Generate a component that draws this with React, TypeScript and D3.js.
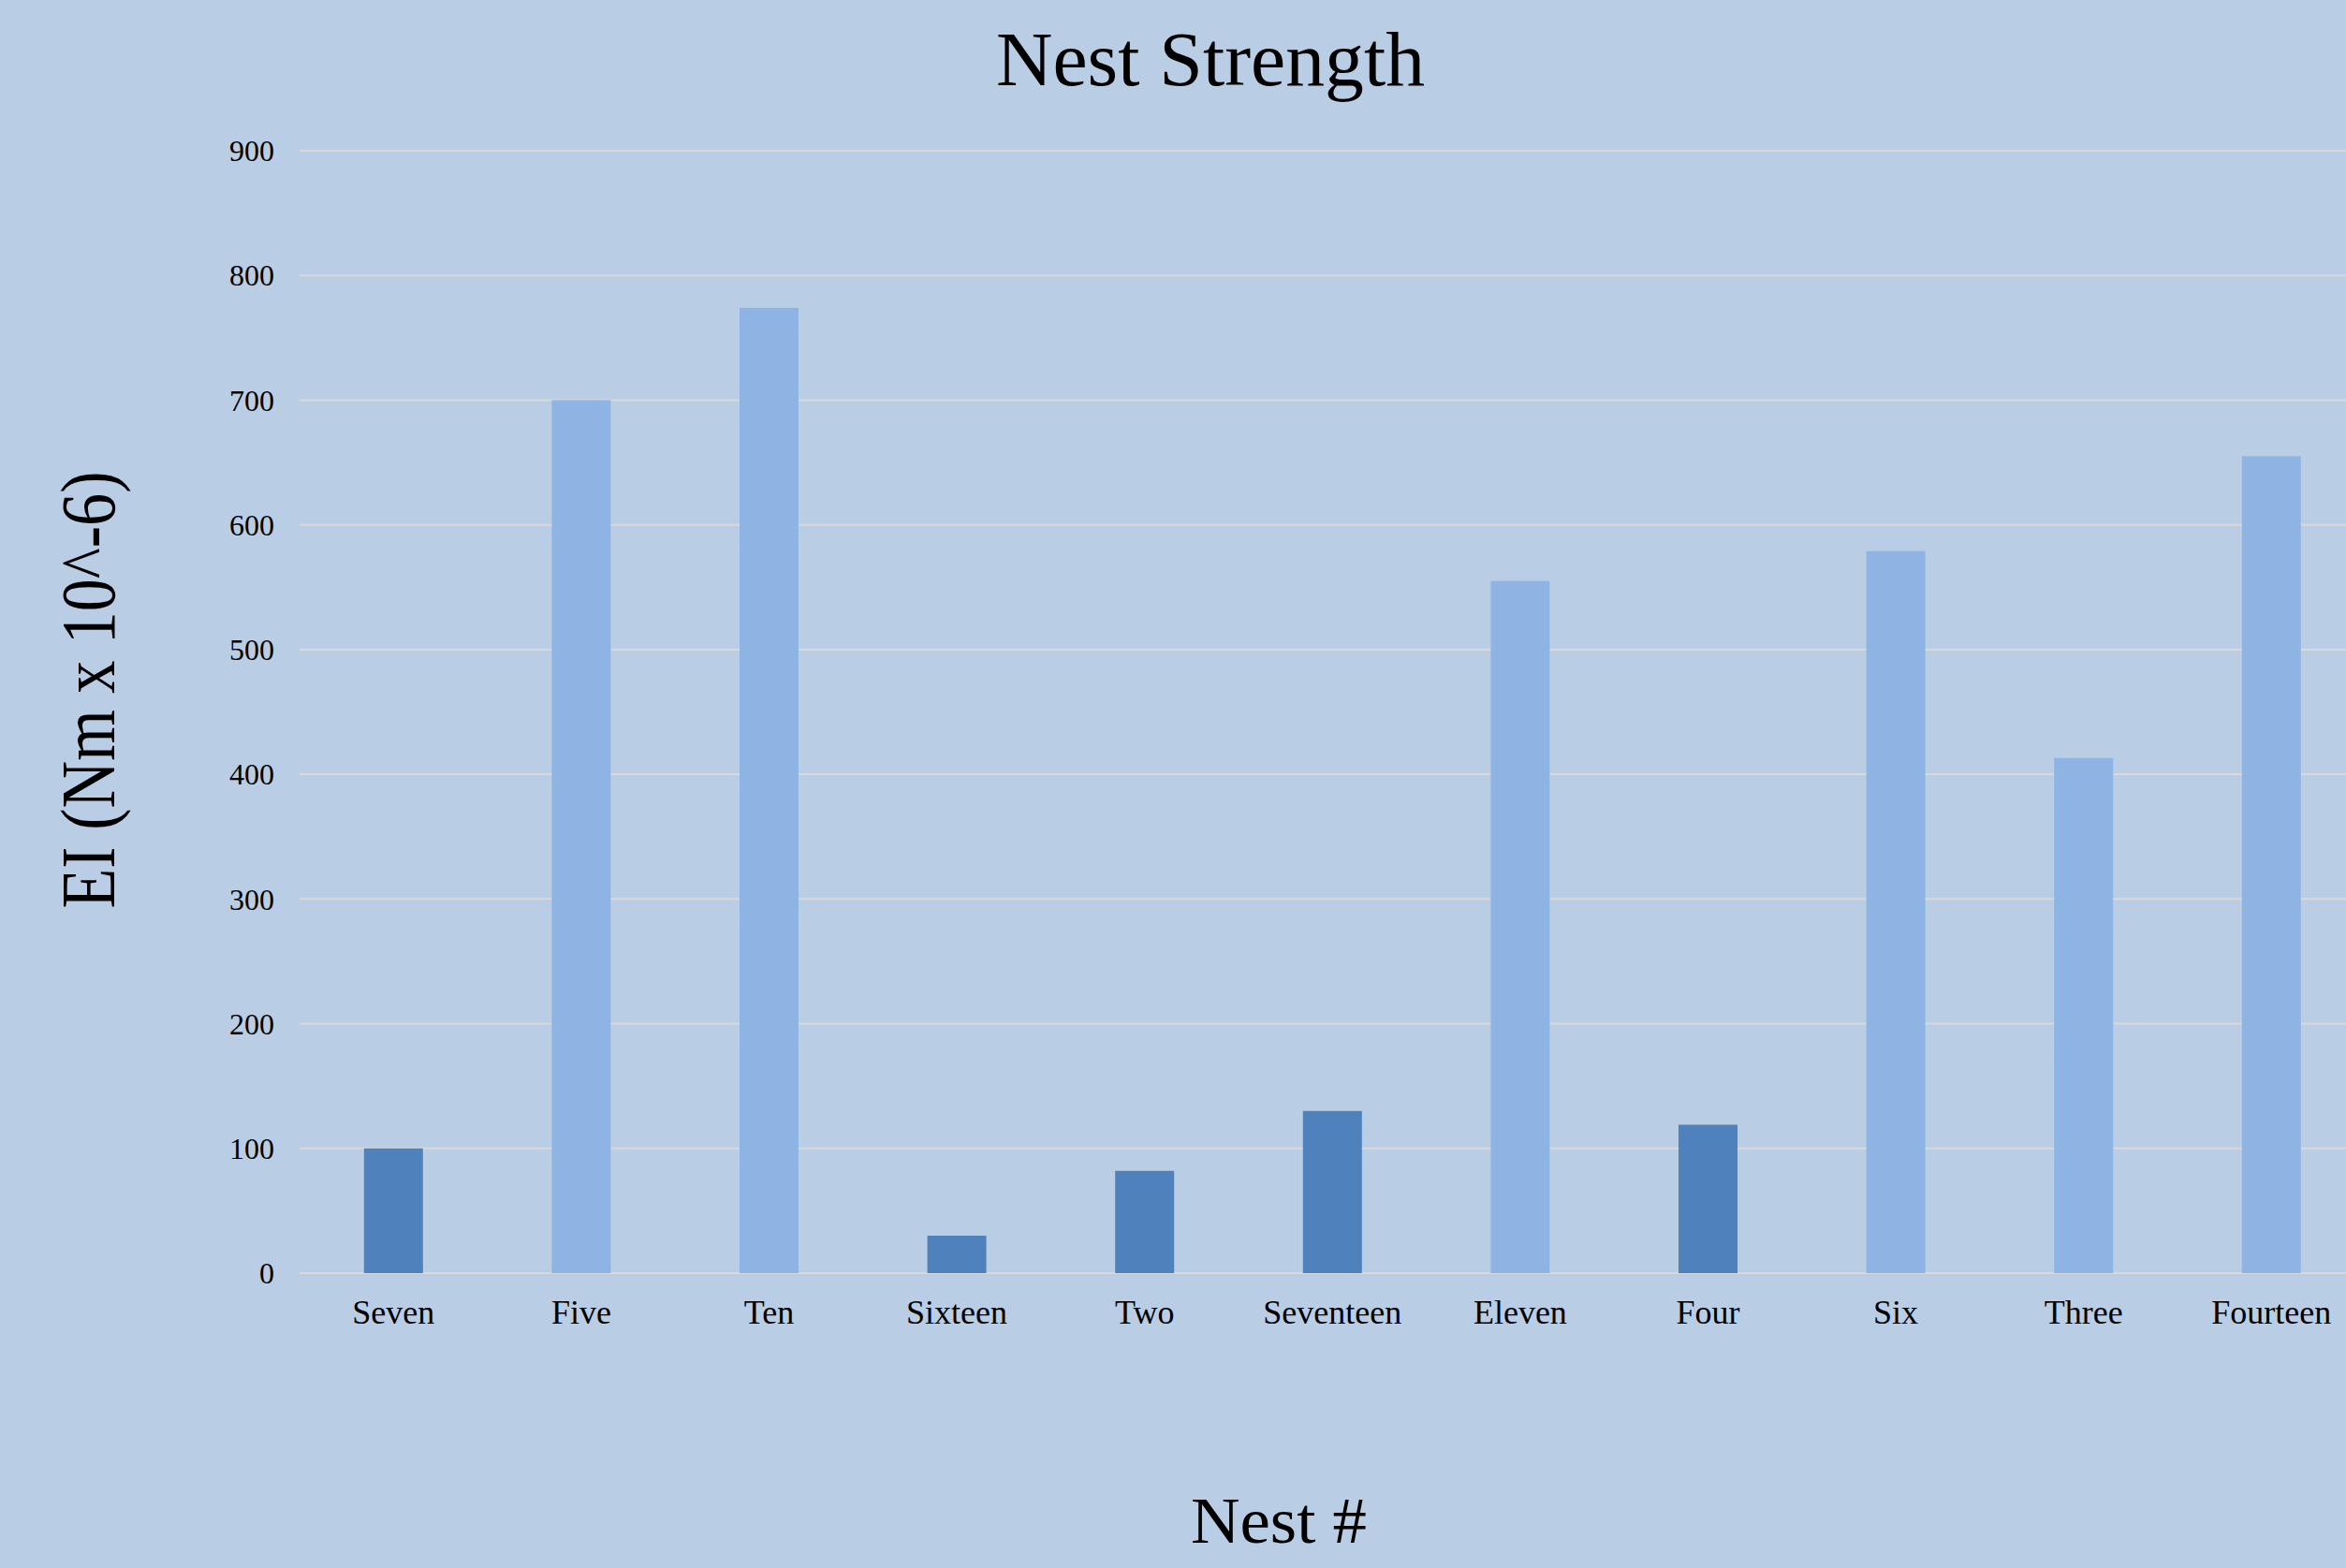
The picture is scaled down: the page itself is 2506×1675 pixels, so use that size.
import React from "react";
import * as d3 from "d3";

const nests = ["Seven", "Five", "Ten", "Sixteen", "Two", "Seventeen", "Eleven", "Four", "Six", "Three", "Fourteen"];
const strength = [100, 700, 774, 30, 82, 130, 555, 119, 579, 413, 655];
const nestGroup = ["low", "high", "high", "low", "low", "low", "high", "low", "high", "high", "high"];
const yTicks = [0, 100, 200, 300, 400, 500, 600, 700, 800, 900];

const W = 2506;
const H = 1675;
const FONT = "'Liberation Serif', 'DejaVu Serif', serif";

export default function App() {
  const x = d3
    .scaleBand<string>()
    .domain(nests)
    .range([320, 2526.6])
    .paddingInner(0.686)
    .paddingOuter(0.343);
  const y = d3.scaleLinear().domain([0, 900]).range([1360, 161]);
  const color = d3.scaleOrdinal<string, string>().domain(["low", "high"]).range(["#4F81BD", "#8EB4E3"]);

  return (
    <svg
      width={W}
      height={H}
      style={{ position: "absolute", left: 0, top: 0, display: "block" }}
      fontFamily={FONT}
    >
      <rect x={0} y={0} width={W} height={H} fill="#B9CDE5" />
      <text x={1293} y={91} textAnchor="middle" fontSize={82} textLength={458} lengthAdjust="spacingAndGlyphs" fill="#000">
        Nest Strength
      </text>
      {yTicks.map((t) => (
        <g key={t}>
          <line x1={320} x2={W} y1={y(t)} y2={y(t)} stroke="#D9D9D9" strokeWidth={2} />
          <text x={293} y={y(t)} dy="0.35em" textAnchor="end" fontSize={32} fill="#000">
            {t}
          </text>
        </g>
      ))}
      {nests.map((n, i) => (
        <rect
          key={n}
          x={x(n)}
          y={y(strength[i])}
          width={x.bandwidth()}
          height={y(0) - y(strength[i])}
          fill={color(nestGroup[i])}
        />
      ))}
      {nests.map((n) => (
        <text key={n} x={(x(n) as number) + x.bandwidth() / 2} y={1414} textAnchor="middle" fontSize={36} fill="#000">
          {n}
        </text>
      ))}
      <text
        transform={`translate(122, 737) rotate(-90)`}
        textAnchor="middle"
        fontSize={82}
        textLength={467}
        lengthAdjust="spacingAndGlyphs"
        fill="#000"
      >
        EI (Nm x 10^-6)
      </text>
      <text x={1366} y={1648} textAnchor="middle" fontSize={70} textLength={188} lengthAdjust="spacingAndGlyphs" fill="#000">
        Nest #
      </text>
    </svg>
  );
}
